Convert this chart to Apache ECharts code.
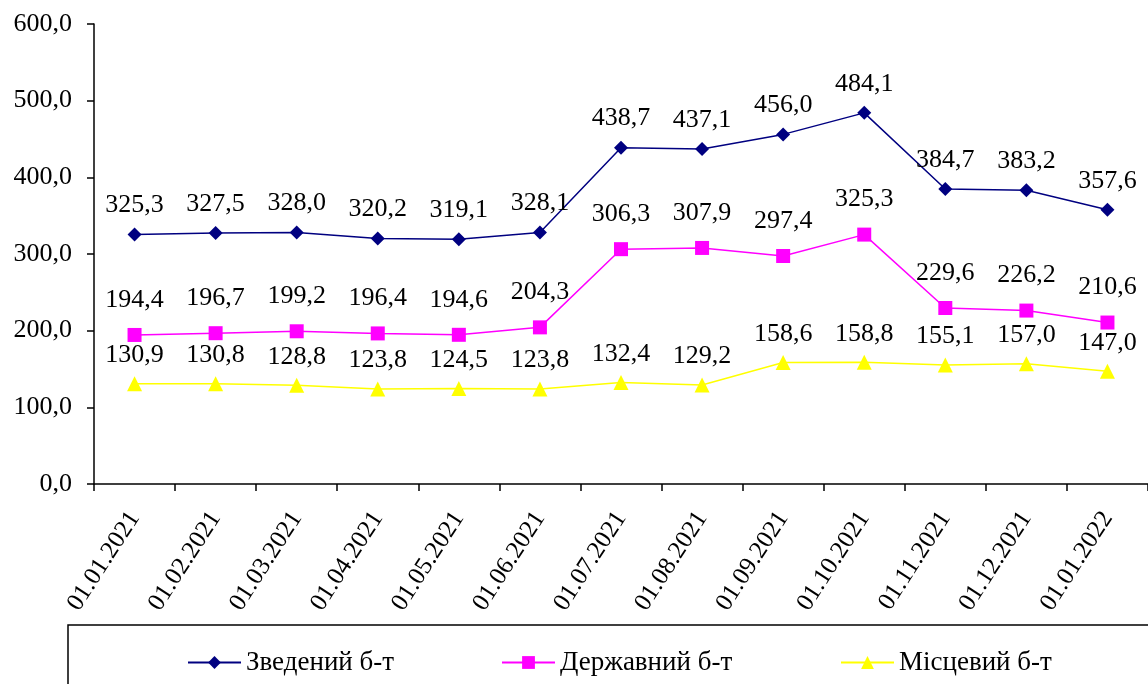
<!DOCTYPE html>
<html>
<head>
<meta charset="utf-8">
<script src="https://cdn.jsdelivr.net/npm/echarts@6/dist/echarts.min.js"></script>
<style>html,body{margin:0;padding:0;background:#fff;}#c{width:1148px;height:684px;}</style>
</head>
<body>
<div id="c"></div>
<script>
const categories = ['01.01.2021','01.02.2021','01.03.2021','01.04.2021','01.05.2021','01.06.2021','01.07.2021','01.08.2021','01.09.2021','01.10.2021','01.11.2021','01.12.2021','01.01.2022'];
const zvedenyi = [325.3,327.5,328.0,320.2,319.1,328.1,438.7,437.1,456.0,484.1,384.7,383.2,357.6];
const derzhavnyi = [194.4,196.7,199.2,196.4,194.6,204.3,306.3,307.9,297.4,325.3,229.6,226.2,210.6];
const mistsevyi = [130.9,130.8,128.8,123.8,124.5,123.8,132.4,129.2,158.6,158.8,155.1,157.0,147.0];
const seriesNames = ['Зведений б-т','Державний б-т','Місцевий б-т'];

const FONT = '"Liberation Serif", "Times New Roman", serif';
const fmt = v => Number(v).toFixed(1).replace('.', ',');
const lbl = (dist) => ({show:true, position:'top', distance:dist, fontFamily:FONT, fontSize:26, color:'#000', formatter:p=>fmt(p.value)});

const chart = echarts.init(document.getElementById('c'));
const legendBase = {orient:'horizontal', itemWidth:53, itemHeight:16, itemGap:6, padding:0,
  textStyle:{fontFamily:FONT, fontSize:27, color:'#000'}, top:649};
chart.setOption({
  backgroundColor:'#fff',
  animation:false,
  grid:{left:94, right:0, top:24, bottom:200, containLabel:false},
  graphic:[{type:'rect', shape:{x:68, y:625, width:1100, height:80}, style:{fill:'none', stroke:'#000', lineWidth:1.5}, z:0}],
  legend:[
    Object.assign({}, legendBase, {left:187, data:[seriesNames[0]]}),
    Object.assign({}, legendBase, {left:501, data:[seriesNames[1]]}),
    Object.assign({}, legendBase, {left:840, data:[seriesNames[2]]})
  ],
  xAxis:{type:'category', data:categories, boundaryGap:true,
    axisLine:{lineStyle:{color:'#000', width:1.5}},
    axisTick:{show:true, length:7, lineStyle:{color:'#000', width:1.5}},
    axisLabel:{rotate:57, fontFamily:FONT, fontSize:25, color:'#000', margin:30, interval:0}},
  yAxis:{type:'value', min:0, max:600, interval:100,
    axisLine:{show:true, lineStyle:{color:'#000', width:1.5}},
    axisTick:{show:true, length:7, lineStyle:{color:'#000', width:1.5}},
    splitLine:{show:false},
    axisLabel:{fontFamily:FONT, fontSize:26, color:'#000', margin:22, formatter:v=>fmt(v)}},
  series:[
    {name:seriesNames[0], type:'line', data:zvedenyi, symbol:'diamond', symbolSize:14,
     itemStyle:{color:'#000080'}, lineStyle:{color:'#000080', width:1.5}, label:lbl(9)},
    {name:seriesNames[1], type:'line', data:derzhavnyi, symbol:'rect', symbolSize:14,
     itemStyle:{color:'#FF00FF'}, lineStyle:{color:'#FF00FF', width:1.5}, label:lbl(15)},
    {name:seriesNames[2], type:'line', data:mistsevyi, symbol:'triangle', symbolSize:15,
     itemStyle:{color:'#FFFF00'}, lineStyle:{color:'#FFFF00', width:1.5}, label:lbl(8)}
  ]
});
</script>
</body>
</html>
